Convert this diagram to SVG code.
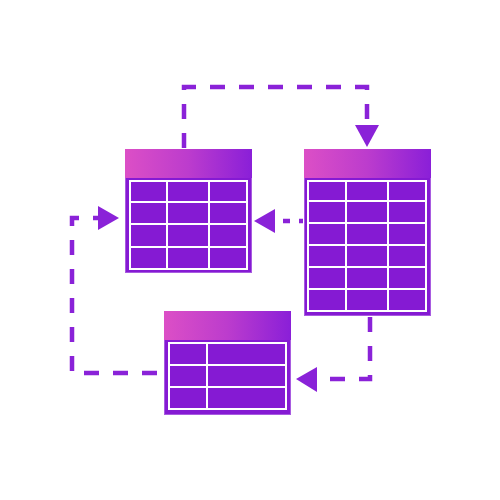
<svg xmlns="http://www.w3.org/2000/svg" width="500" height="500" viewBox="0 0 500 500">
<defs>
<linearGradient id="hdr" x1="0" y1="0" x2="1" y2="0">
<stop offset="0" stop-color="#dc4fc6"/>
<stop offset="0.5" stop-color="#bc3ccd"/>
<stop offset="1" stop-color="#8a1fd8"/>
</linearGradient>
</defs>
<style>
.body{fill:#851ad3;stroke:#a85be0;stroke-width:1}
.grid{fill:none;stroke:#ffffff;stroke-width:2}
.conn{fill:none;stroke:#8a22d8;stroke-width:4.5;stroke-dasharray:15 14}
.arrow{fill:#8a22d8}
</style>
<rect width="500" height="500" fill="#ffffff"/>
<g id="connectors">
<path class="conn" d="M184,148 V87 H367 V128"/>
<polygon class="arrow" points="355,125 379,125 367,147"/>
<path class="conn" d="M283,221 H290 M299,221 H303" stroke-dasharray="none"/>
<polygon class="arrow" points="275,209 275,233 254,221"/>
<path class="conn" d="M370,317 V379 H316"/>
<polygon class="arrow" points="317,367 317,392 296,379"/>
<path class="conn" d="M157,373 H72 V218 H100"/>
<polygon class="arrow" points="98,206 98,230 119,218"/>
</g>
<g id="table1">
<rect class="body" x="125.5" y="149.5" width="126" height="123"/>
<rect x="125" y="149" width="127" height="29" fill="url(#hdr)"/>
<rect class="grid" x="130" y="181" width="117" height="88"/>
<path class="grid" d="M167,181 V269 M209,181 V269 M130,202 H247 M130,224 H247 M130,247 H247"/>
</g>
<g id="table2">
<rect class="body" x="304.5" y="149.5" width="126" height="166"/>
<rect x="304" y="149" width="127" height="29" fill="url(#hdr)"/>
<rect class="grid" x="308" y="181" width="118" height="130"/>
<path class="grid" d="M346,181 V311 M388,181 V311 M308,201 H426 M308,223 H426 M308,245 H426 M308,267 H426 M308,289 H426"/>
</g>
<g id="table3">
<rect class="body" x="164.5" y="311.5" width="126" height="103"/>
<rect x="164" y="311" width="127" height="29" fill="url(#hdr)"/>
<rect class="grid" x="169" y="343" width="117" height="66"/>
<path class="grid" d="M207,343 V409 M169,365 H286 M169,387 H286"/>
</g>
</svg>
